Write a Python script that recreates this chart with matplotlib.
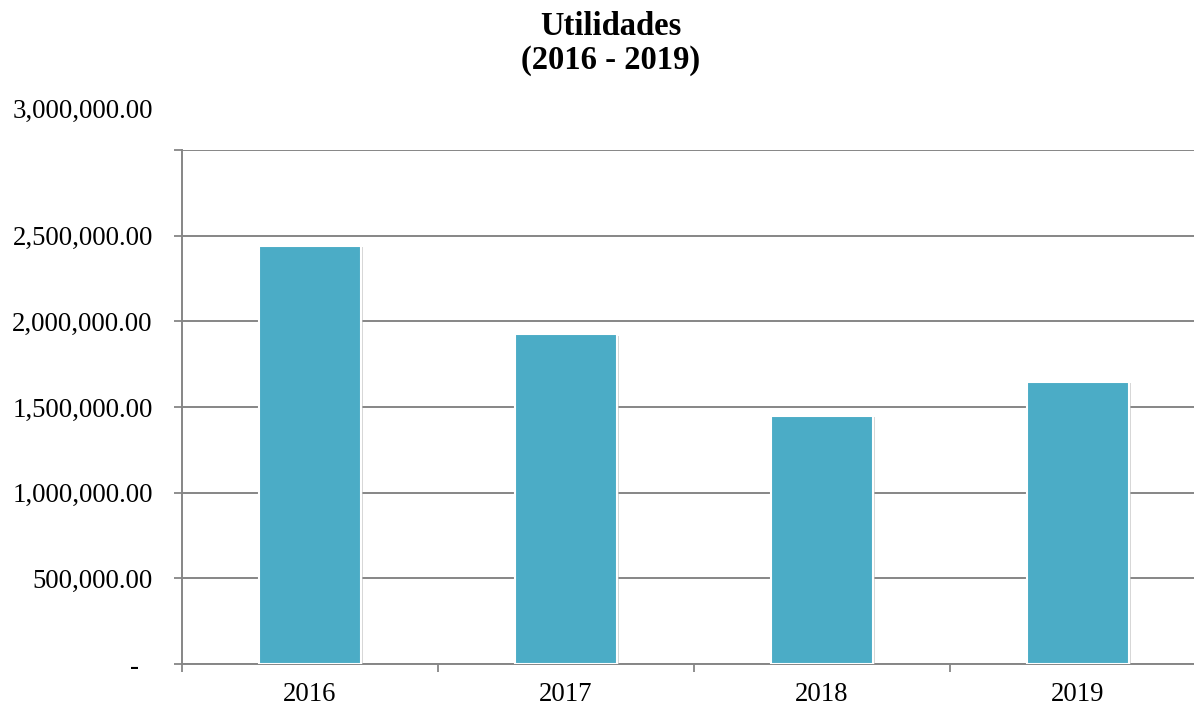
import matplotlib
matplotlib.use("Agg")
import matplotlib.pyplot as plt
from matplotlib.ticker import FixedLocator, FuncFormatter
import matplotlib.patheffects as pe

categories = ["2016", "2017", "2018", "2019"]
utilidades = [2440000, 1925000, 1450000, 1648000]
y_ticks = [0, 500000, 1000000, 1500000, 2000000, 2500000]
title_text = "Utilidades\n(2016 - 2019)"

plt.rcParams['font.family'] = ['Liberation Serif', 'DejaVu Serif']

fig = plt.figure(figsize=(11.94, 7.06), dpi=100)
ax = fig.add_axes([182/1194, 1-664/706, 1024/1194, (664-150)/706])

grid_c = '#868686'
x = [i + 0.5 for i in range(len(categories))]
bars = ax.bar(x, utilidades, width=0.4, color='#4BACC6', edgecolor='white', linewidth=1.5, zorder=3)
for b in bars:
    b.set_path_effects([pe.SimplePatchShadow(offset=(1.5, -1.0), shadow_rgbFace='#bbbbbb', alpha=0.6), pe.Normal()])

ax.set_xlim(0, 4)
ax.set_ylim(0, 3000000)

ax.yaxis.set_major_locator(FixedLocator(y_ticks + [3000000]))
def fmt(v, pos):
    if v == 0:
        return "-  "
    if v >= 3000000:
        return ""
    return f"{v:,.2f}"
ax.yaxis.set_major_formatter(FuncFormatter(fmt))
ax.tick_params(axis='y', direction='out', length=6, width=1.3, color=grid_c, pad=15, labelsize=19.3)
ax.grid(axis='y', color=grid_c, linewidth=1.4, zorder=0)
ax.set_axisbelow(True)

ax.set_xticks(x)
ax.set_xticklabels(categories)
ax.set_xticks(range(0, 5), minor=True)
ax.tick_params(axis='x', which='major', length=0, pad=13, labelsize=19.3)
ax.tick_params(axis='x', which='minor', direction='out', length=6, width=1.3, color=grid_c)

for s in ['top', 'right']:
    ax.spines[s].set_visible(False)
for s in ['left', 'bottom']:
    ax.spines[s].set_color(grid_c)
    ax.spines[s].set_linewidth(1.4)

# top tick label drawn above its gridline, as in the reference
ax.annotate(f"{3000000:,.2f}", xy=(0, 3000000), xycoords=ax.get_yaxis_transform(),
            xytext=(-20.9, 28.0), textcoords='offset points', ha='right', va='center',
            fontsize=19.3, annotation_clip=False)

fig.text(611/1194, 1-11/706, title_text, ha='center', va='top', fontsize=23.5,
         fontweight='bold', linespacing=1.1)

fig.savefig("out.png", dpi=100)
